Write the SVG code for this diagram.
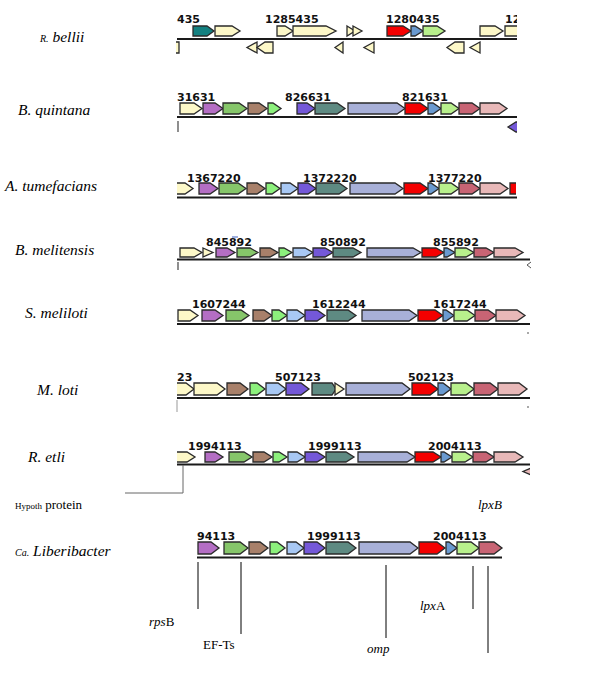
<svg xmlns="http://www.w3.org/2000/svg" width="600" height="682" viewBox="0 0 600 682">
<style>
.g{stroke:#2a2a2a;stroke-width:1.3;stroke-linejoin:miter}
.cr{fill:#fdf8c8}.tl{fill:#138080}.rd{fill:#f40000}.bl{fill:#6a9ad0}.lg{fill:#b8f08c}
.pu{fill:#b46ec4}.gr{fill:#86c66a}.br{fill:#a8806a}.lg2{fill:#8cf07c}.lb{fill:#a8c8f4}
.pb{fill:#7458d8}.gt{fill:#5e8a82}.lv{fill:#a8b0d8}.ro{fill:#c86474}.pk{fill:#e8b8b8}
.axis{stroke:#1a1a1a;stroke-width:2}
.num{font-family:"DejaVu Sans",sans-serif;font-weight:bold;font-size:11px;fill:#111}
.sp{font-family:"Liberation Serif",serif;font-style:italic;font-size:15.5px;fill:#000}
.lab{font-family:"Liberation Serif",serif;font-size:13px;fill:#000}
.lead{stroke:#000;stroke-width:1;fill:none}
.tick{stroke:#444;stroke-width:1.2}
</style>
<defs>
<clipPath id="c1"><rect x="176" y="0" width="341" height="60"/></clipPath>
<clipPath id="c2"><rect x="176" y="85" width="341" height="55"/></clipPath>
<clipPath id="c3"><rect x="177" y="165" width="339" height="40"/></clipPath>
<clipPath id="c6"><rect x="177" y="365" width="360" height="40"/></clipPath>
<clipPath id="c7"><rect x="177" y="435" width="353" height="45"/></clipPath>
</defs>
<rect width="600" height="682" fill="#fff"/>

<g id="labels">
<text class="sp" x="40" y="42"><tspan font-size="10">R.</tspan> bellii</text>
<text class="sp" x="18" y="115">B. quintana</text>
<text class="sp" x="5" y="191">A. tumefacians</text>
<text class="sp" x="15" y="255">B. melitensis</text>
<text class="sp" x="25" y="318">S. meliloti</text>
<text class="sp" x="37" y="395">M. loti</text>
<text class="sp" x="28" y="462">R. etli</text>
<text class="lab" x="15" y="509"><tspan font-size="9">Hypoth</tspan> protein</text>
<text class="sp" x="15" y="556"><tspan font-size="10">Ca.</tspan> Liberibacter</text>
<text class="lab" x="149" y="626"><tspan font-style="italic">rps</tspan>B</text>
<text class="lab" x="203" y="649">EF-Ts</text>
<text class="lab" x="367" y="653" font-style="italic">omp</text>
<text class="lab" x="420" y="610"><tspan font-style="italic">lpx</tspan>A</text>
<text class="lab" x="478" y="509" font-style="italic">lpxB</text>
</g>

<g id="row-rbellii">
<g clip-path="url(#c1)">
<line class="axis" x1="177" y1="39" x2="517" y2="39"/>
<polygon class="g tl" points="193,26 207,26 214,31 207,36 193,36"/>
<polygon class="g cr" points="215,26 232,26 240,31 232,36 215,36"/>
<polygon class="g cr" points="277,26 285,26 293,31 285,36 277,36"/>
<polygon class="g cr" points="293,26 326,26 336,31 326,36 293,36"/>
<polygon class="g cr" points="347,26 355,31 347,36"/>
<polygon class="g cr" points="353,26 362,31 353,36"/>
<polygon class="g rd" points="387,26 403,26 411,31 403,36 387,36"/>
<polygon class="g bl" points="411,26 415,26 423,31 415,36 411,36"/>
<polygon class="g lg" points="423,26 437,26 445,31 437,36 423,36"/>
<polygon class="g cr" points="480,26 495,26 503,31 495,36 480,36"/>
<polygon class="g cr" points="505,26 520,26 528,31 520,36 505,36"/>
<polygon class="g cr" points="179,42 168,42 160,47.5 168,53 179,53"/>
<polygon class="g cr" points="257,42 247,47.5 257,53"/>
<polygon class="g cr" points="273,42 265,42 257,47.5 265,53 273,53"/>
<polygon class="g cr" points="343,42 335,47.5 343,53"/>
<polygon class="g cr" points="374,42 364,47.5 374,53"/>
<polygon class="g cr" points="464,42 455,42 447,47.5 455,53 464,53"/>
<polygon class="g cr" points="480,42 470,47.5 480,53"/>
<text class="num" x="505" y="23">12</text>
</g>
<text class="num" x="177" y="23">435</text>
<text class="num" x="265" y="23">1285435</text>
<text class="num" x="386" y="23">1280435</text>
</g>

<g id="row-bquintana">
<line class="axis" x1="177" y1="117" x2="517" y2="117"/>
<polygon class="g cr" points="180,103 194,103 202,108.5 194,114 180,114"/>
<polygon class="g pu" points="203,103 215,103 223,108.5 215,114 203,114"/>
<polygon class="g gr" points="223,103 239,103 247,108.5 239,114 223,114"/>
<polygon class="g br" points="248,103 259,103 267,108.5 259,114 248,114"/>
<polygon class="g lg2" points="268,103 273,103 281,108.5 273,114 268,114"/>
<polygon class="g pb" points="297,103 307,103 315,108.5 307,114 297,114"/>
<polygon class="g gt" points="315,103 337,103 345,108.5 337,114 315,114"/>
<polygon class="g lv" points="348,103 397,103 405,108.5 397,114 348,114"/>
<polygon class="g rd" points="405,103 420,103 428,108.5 420,114 405,114"/>
<polygon class="g bl" points="428,103 433,103 441,108.5 433,114 428,114"/>
<polygon class="g lg" points="441,103 451,103 459,108.5 451,114 441,114"/>
<polygon class="g ro" points="459,103 472,103 480,108.5 472,114 459,114"/>
<polygon class="g pk" points="480,103 499,103 507,108.5 499,114 480,114"/>
<line class="tick" x1="178" y1="121" x2="178" y2="132"/>
<g clip-path="url(#c2)"><polygon class="g pb" points="530,122 516,122 508,127 516,132 530,132"/></g>
<text class="num" x="177" y="101">31631</text>
<text class="num" x="285" y="101">826631</text>
<text class="num" x="402" y="101">821631</text>
</g>

<g id="row-atumefacians">
<line class="axis" x1="177" y1="197.5" x2="517" y2="197.5"/>
<g clip-path="url(#c3)">
<polygon class="g cr" points="165,183 185,183 193,188.5 185,194 165,194"/>
<polygon class="g rd" points="510,183 522,183 530,188.5 522,194 510,194"/>
</g>
<polygon class="g pu" points="199,183 210,183 218,188.5 210,194 199,194"/>
<polygon class="g gr" points="219,183 238,183 246,188.5 238,194 219,194"/>
<polygon class="g br" points="247,183 257,183 265,188.5 257,194 247,194"/>
<polygon class="g lg2" points="266,183 272,183 280,188.5 272,194 266,194"/>
<polygon class="g lb" points="281,183 290,183 298,188.5 290,194 281,194"/>
<polygon class="g pb" points="298,183 308,183 316,188.5 308,194 298,194"/>
<polygon class="g gt" points="316,183 339,183 347,188.5 339,194 316,194"/>
<polygon class="g lv" points="350,183 395,183 403,188.5 395,194 350,194"/>
<polygon class="g rd" points="404,183 420,183 428,188.5 420,194 404,194"/>
<polygon class="g bl" points="428,183 431,183 439,188.5 431,194 428,194"/>
<polygon class="g lg" points="439,183 451,183 459,188.5 451,194 439,194"/>
<polygon class="g ro" points="459,183 472,183 480,188.5 472,194 459,194"/>
<polygon class="g pk" points="480,183 500,183 508,188.5 500,194 480,194"/>
<text class="num" x="187" y="182">1367220</text>
<text class="num" x="303" y="182">1372220</text>
<text class="num" x="428" y="182">1377220</text>
</g>

<g id="row-bmelitensis">
<line class="axis" x1="177" y1="259.5" x2="530" y2="259.5"/>
<polygon class="g cr" points="180,248 194,248 202,252.5 194,257 180,257"/>
<polygon class="g cr" points="203,248 213,252.5 203,257"/>
<polygon class="g pu" points="216,248 227,248 235,252.5 227,257 216,257"/>
<polygon class="g gr" points="237,248 250,248 258,252.5 250,257 237,257"/>
<polygon class="g br" points="260,248 270,248 278,252.5 270,257 260,257"/>
<polygon class="g lg2" points="279,248 284,248 292,252.5 284,257 279,257"/>
<polygon class="g lb" points="293,248 305,248 313,252.5 305,257 293,257"/>
<polygon class="g pb" points="313,248 325,248 333,252.5 325,257 313,257"/>
<polygon class="g gt" points="333,248 353,248 361,252.5 353,257 333,257"/>
<polygon class="g lv" points="367,248 413,248 421,252.5 413,257 367,257"/>
<polygon class="g rd" points="422,248 436,248 444,252.5 436,257 422,257"/>
<polygon class="g bl" points="444,248 447,248 455,252.5 447,257 444,257"/>
<polygon class="g lg" points="455,248 466,248 474,252.5 466,257 455,257"/>
<polygon class="g ro" points="474,248 486,248 494,252.5 486,257 474,257"/>
<polygon class="g pk" points="494,248 515,248 523,252.5 515,257 494,257"/>
<line class="tick" x1="178" y1="262" x2="178" y2="270"/>
<polyline points="531,262 527,265 531,268" fill="none" stroke="#555" stroke-width="1"/>
<line x1="232" y1="237" x2="238" y2="237" stroke="#4060c0" stroke-width="1"/>
<text class="num" x="206" y="245.5">845892</text>
<text class="num" x="320" y="245.5">850892</text>
<text class="num" x="433" y="245.5">855892</text>
</g>

<g id="row-smeliloti">
<line class="axis" x1="177" y1="324" x2="530" y2="324"/>
<polygon class="g cr" points="178,310 190,310 198,315.5 190,321 178,321"/>
<polygon class="g pu" points="202,310 215,310 223,315.5 215,321 202,321"/>
<polygon class="g gr" points="226,310 241,310 249,315.5 241,321 226,321"/>
<polygon class="g br" points="253,310 264,310 272,315.5 264,321 253,321"/>
<polygon class="g lg2" points="272,310 279,310 287,315.5 279,321 272,321"/>
<polygon class="g lb" points="287,310 297,310 305,315.5 297,321 287,321"/>
<polygon class="g pb" points="305,310 317,310 325,315.5 317,321 305,321"/>
<polygon class="g gt" points="327,310 348,310 356,315.5 348,321 327,321"/>
<polygon class="g lv" points="362,310 409,310 417,315.5 409,321 362,321"/>
<polygon class="g rd" points="418,310 435,310 443,315.5 435,321 418,321"/>
<polygon class="g bl" points="443,310 446,310 454,315.5 446,321 443,321"/>
<polygon class="g lg" points="454,310 467,310 475,315.5 467,321 454,321"/>
<polygon class="g ro" points="475,310 488,310 496,315.5 488,321 475,321"/>
<polygon class="g pk" points="496,310 517,310 525,315.5 517,321 496,321"/>
<rect x="527.5" y="332" width="1" height="2" fill="#555"/>
<text class="num" x="192" y="308">1607244</text>
<text class="num" x="312" y="308">1612244</text>
<text class="num" x="433" y="308">1617244</text>
</g>

<g id="row-mloti">
<line class="axis" x1="177" y1="398" x2="530" y2="398"/>
<g clip-path="url(#c6)">
<polygon class="g cr" points="165,383 186,383 194,389 186,395 165,395"/>
</g>
<polygon class="g cr" points="194,383 217,383 225,389 217,395 194,395"/>
<polygon class="g br" points="227,383 240,383 248,389 240,395 227,395"/>
<polygon class="g lg2" points="250,383 257,383 265,389 257,395 250,395"/>
<polygon class="g lb" points="266,383 278,383 286,389 278,395 266,395"/>
<polygon class="g pb" points="286,383 301,383 309,389 301,395 286,395"/>
<polygon class="g gt" points="312,383 332,383 336,389 332,395 312,395"/>
<polygon class="g cr" points="335,383 344,389 335,395"/>
<polygon class="g lv" points="346,383 402,383 410,389 402,395 346,395"/>
<polygon class="g rd" points="412,383 430,383 438,389 430,395 412,395"/>
<polygon class="g bl" points="438,383 443,383 451,389 443,395 438,395"/>
<polygon class="g lg" points="451,383 466,383 474,389 466,395 451,395"/>
<polygon class="g ro" points="474,383 490,383 498,389 490,395 474,395"/>
<polygon class="g pk" points="498,383 519,383 527,389 519,395 498,395"/>
<line x1="177" y1="400" x2="177" y2="412" stroke="#999" stroke-width="1"/>
<rect x="527.5" y="406" width="1" height="2" fill="#555"/>
<text class="num" x="177" y="381">23</text>
<text class="num" x="275" y="381">507123</text>
<text class="num" x="408" y="381">502123</text>
</g>

<g id="row-retli">
<line class="axis" x1="177" y1="464.5" x2="530" y2="464.5"/>
<g clip-path="url(#c7)">
<polygon class="g cr" points="165,452 187,452 195,457 187,462 165,462"/>
<polygon class="g pk" points="540,468 531,468 523,471.5 531,475 540,475"/>
</g>
<polygon class="g pu" points="205,452 215,452 223,457 215,462 205,462"/>
<polygon class="g gr" points="229,452 244,452 252,457 244,462 229,462"/>
<polygon class="g br" points="253,452 264,452 272,457 264,462 253,462"/>
<polygon class="g lg2" points="273,452 279,452 287,457 279,462 273,462"/>
<polygon class="g lb" points="288,452 297,452 305,457 297,462 288,462"/>
<polygon class="g pb" points="305,452 317,452 325,457 317,462 305,462"/>
<polygon class="g gt" points="326,452 346,452 354,457 346,462 326,462"/>
<polygon class="g lv" points="358,452 407,452 415,457 407,462 358,462"/>
<polygon class="g rd" points="415,452 433,452 441,457 433,462 415,462"/>
<polygon class="g bl" points="441,452 444,452 452,457 444,462 441,462"/>
<polygon class="g lg" points="452,452 465,452 473,457 465,462 452,462"/>
<polygon class="g ro" points="473,452 486,452 494,457 486,462 473,462"/>
<polygon class="g pk" points="494,452 515,452 523,457 515,462 494,462"/>
<text class="num" x="188" y="450">1994113</text>
<text class="num" x="308" y="450">1999113</text>
<text class="num" x="428" y="450">2004113</text>
</g>

<g id="row-liberibacter">
<line class="axis" x1="197" y1="557.5" x2="502" y2="557.5"/>
<polygon class="g pu" points="198,542 211,542 219,548 211,554 198,554"/>
<polygon class="g gr" points="224,542 240,542 248,548 240,554 224,554"/>
<polygon class="g br" points="249,542 260,542 268,548 260,554 249,554"/>
<polygon class="g lg2" points="270,542 277,542 285,548 277,554 270,554"/>
<polygon class="g lb" points="287,542 296,542 304,548 296,554 287,554"/>
<polygon class="g pb" points="304,542 317,542 325,548 317,554 304,554"/>
<polygon class="g gt" points="326,542 348,542 356,548 348,554 326,554"/>
<polygon class="g lv" points="359,542 410,542 418,548 410,554 359,554"/>
<polygon class="g rd" points="419,542 437,542 445,548 437,554 419,554"/>
<polygon class="g bl" points="446,542 449,542 457,548 449,554 446,554"/>
<polygon class="g lg" points="457,542 471,542 479,548 471,554 457,554"/>
<polygon class="g ro" points="479,542 494,542 502,548 494,554 479,554"/>
<text class="num" x="197" y="540">94113</text>
<text class="num" x="307" y="540">1999113</text>
<text class="num" x="433" y="540">2004113</text>
</g>

<g id="connectors">
<polyline points="183,465 183,493 125,493" fill="none" stroke="#666" stroke-width="1"/>
<line class="lead" x1="198" y1="562" x2="198" y2="609"/>
<line class="lead" x1="241" y1="562" x2="241" y2="634"/>
<line class="lead" x1="386" y1="565" x2="386" y2="638"/>
<line class="lead" x1="473" y1="566" x2="473" y2="609"/>
<line class="lead" x1="488" y1="566" x2="488" y2="653"/>
</g>
</svg>
